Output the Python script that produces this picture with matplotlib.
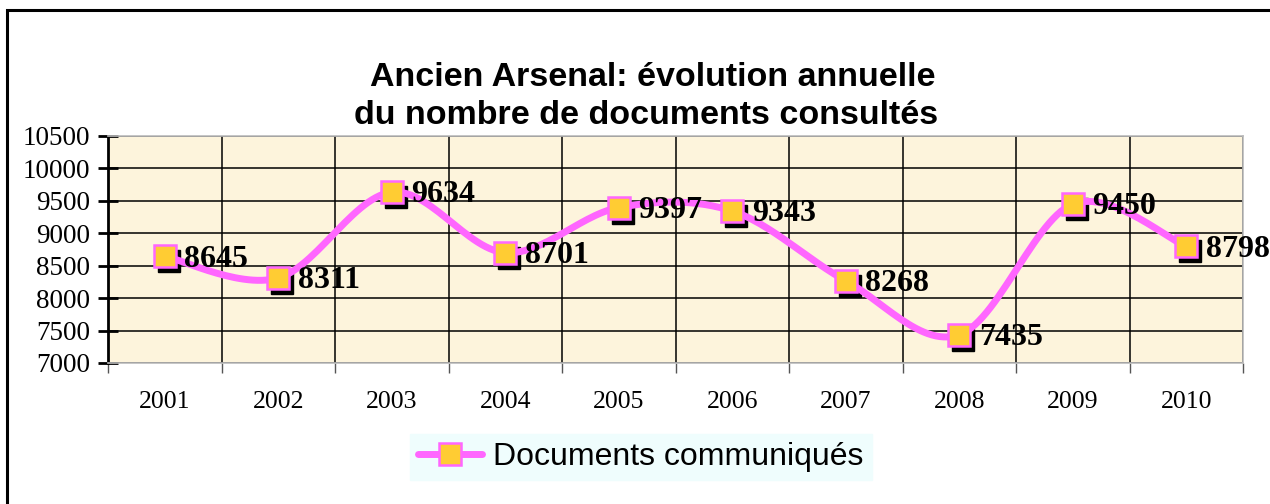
import numpy as np
import matplotlib
matplotlib.use("Agg")
from matplotlib import pyplot as plt
from matplotlib import transforms
from matplotlib.patches import Rectangle

years = ['2001', '2002', '2003', '2004', '2005', '2006', '2007', '2008', '2009', '2010']
documents = [8645, 8311, 9634, 8701, 9397, 9343, 8268, 7435, 9450, 8798]
y_ticks = [7000, 7500, 8000, 8500, 9000, 9500, 10000, 10500]

line_color = '#FF66FF'
marker_color = '#FFCC33'
plot_bg = '#FDF4DC'


def smooth(xs, ys, n=30):
    # courbe lissee facon Excel (Catmull-Rom -> Bezier)
    px = np.concatenate([[xs[0]], xs, [xs[-1]]])
    py = np.concatenate([[ys[0]], ys, [ys[-1]]])
    out_x, out_y = [], []
    t = np.linspace(0, 1, n)
    for i in range(1, len(px) - 2):
        p0 = np.array([px[i], py[i]])
        p3 = np.array([px[i + 1], py[i + 1]])
        p1 = p0 + (np.array([px[i + 1], py[i + 1]]) - np.array([px[i - 1], py[i - 1]])) / 6
        p2 = p3 - (np.array([px[i + 2], py[i + 2]]) - np.array([px[i], py[i]])) / 6
        for tt in t:
            b = ((1 - tt) ** 3) * p0 + 3 * ((1 - tt) ** 2) * tt * p1 + 3 * (1 - tt) * tt ** 2 * p2 + tt ** 3 * p3
            out_x.append(b[0])
            out_y.append(b[1])
    return out_x, out_y


fig = plt.figure(figsize=(12.70, 5.04), dpi=100)
fig.patch.set_facecolor('white')

# cadre du graphique
fig.patches.append(Rectangle((7 / 1270, -0.05), 1.2, 1 - 10 / 504 + 0.05, transform=fig.transFigure,
                             fill=False, edgecolor='black', linewidth=2.2, zorder=0))

ax = fig.add_axes([108 / 1270, 1 - 363 / 504, (1243 - 108) / 1270, (363 - 136) / 504])
ax.set_facecolor(plot_bg)

x = np.arange(len(years))
sx, sy = smooth(x, documents)
ax.plot(sx, sy, color=line_color, linewidth=5, solid_capstyle='round', zorder=3)

shadow = transforms.offset_copy(ax.transData, fig=fig, x=4, y=-5, units='dots')
ax.plot(x, documents, linestyle='none', marker='s', markersize=16, markerfacecolor='black',
        markeredgecolor='black', transform=shadow, zorder=2.5)
ax.plot(x, documents, linestyle='none', marker='s', markersize=16, markerfacecolor=marker_color,
        markeredgecolor=line_color, markeredgewidth=1.8, zorder=4)

for xi, v in zip(x, documents):
    ax.annotate(str(v), (xi, v), xytext=(14, -2), textcoords='offset points', ha='left', va='center',
                fontsize=23, fontweight='bold', family='Liberation Serif', zorder=5)

ax.set_xlim(-0.5, len(years) - 0.5)
ax.set_ylim(7000, 10500)
ax.set_yticks(y_ticks)
ax.set_yticklabels([str(v) for v in y_ticks], family='Liberation Serif', fontsize=19.5)
ax.tick_params(axis='y', direction='inout', length=14, width=2, pad=6)

ax.set_xticks(np.arange(len(years) + 1) - 0.5)
ax.set_xticklabels([])
ax.set_xticks(x, minor=True)
ax.set_xticklabels(years, minor=True, family='Liberation Serif', fontsize=18.5)
ax.tick_params(axis='x', which='major', direction='out', length=7, width=1, color='#555555')
ax.tick_params(axis='x', which='minor', length=0, pad=20)

ax.grid(True, which='major', color='black', linewidth=1.1)
ax.set_axisbelow(True)
for s in ['top', 'right', 'bottom']:
    ax.spines[s].set_color('#BBBBBB')
    ax.spines[s].set_linewidth(1.2)
ax.spines['left'].set_linewidth(2)

fig.text(653 / 1270, 1 - 78 / 504, 'Ancien Arsenal: évolution annuelle',
         ha='center', va='center', family='Liberation Sans', fontweight='bold', fontsize=24.5)
fig.text(646 / 1270, 1 - 115 / 504, 'du nombre de documents consultés',
         ha='center', va='center', family='Liberation Sans', fontweight='bold', fontsize=24.5)

handle = plt.Line2D([], [], color=line_color, linewidth=5, solid_capstyle='round',
                    marker='s', markersize=16, markerfacecolor=marker_color,
                    markeredgecolor=line_color, markeredgewidth=1.8)
leg = fig.legend(handles=[handle], labels=['Documents communiqués'], loc='center',
                 bbox_to_anchor=(641 / 1270, 1 - 457 / 504),
                 prop={'family': 'Liberation Sans', 'size': 23}, frameon=True, fancybox=False,
                 facecolor='#EFFDFD', edgecolor='#EFFDFD', framealpha=1, handlelength=2.0,
                 handletextpad=0.35, borderpad=0.25, borderaxespad=0)

fig.savefig('out.png', dpi=100)
